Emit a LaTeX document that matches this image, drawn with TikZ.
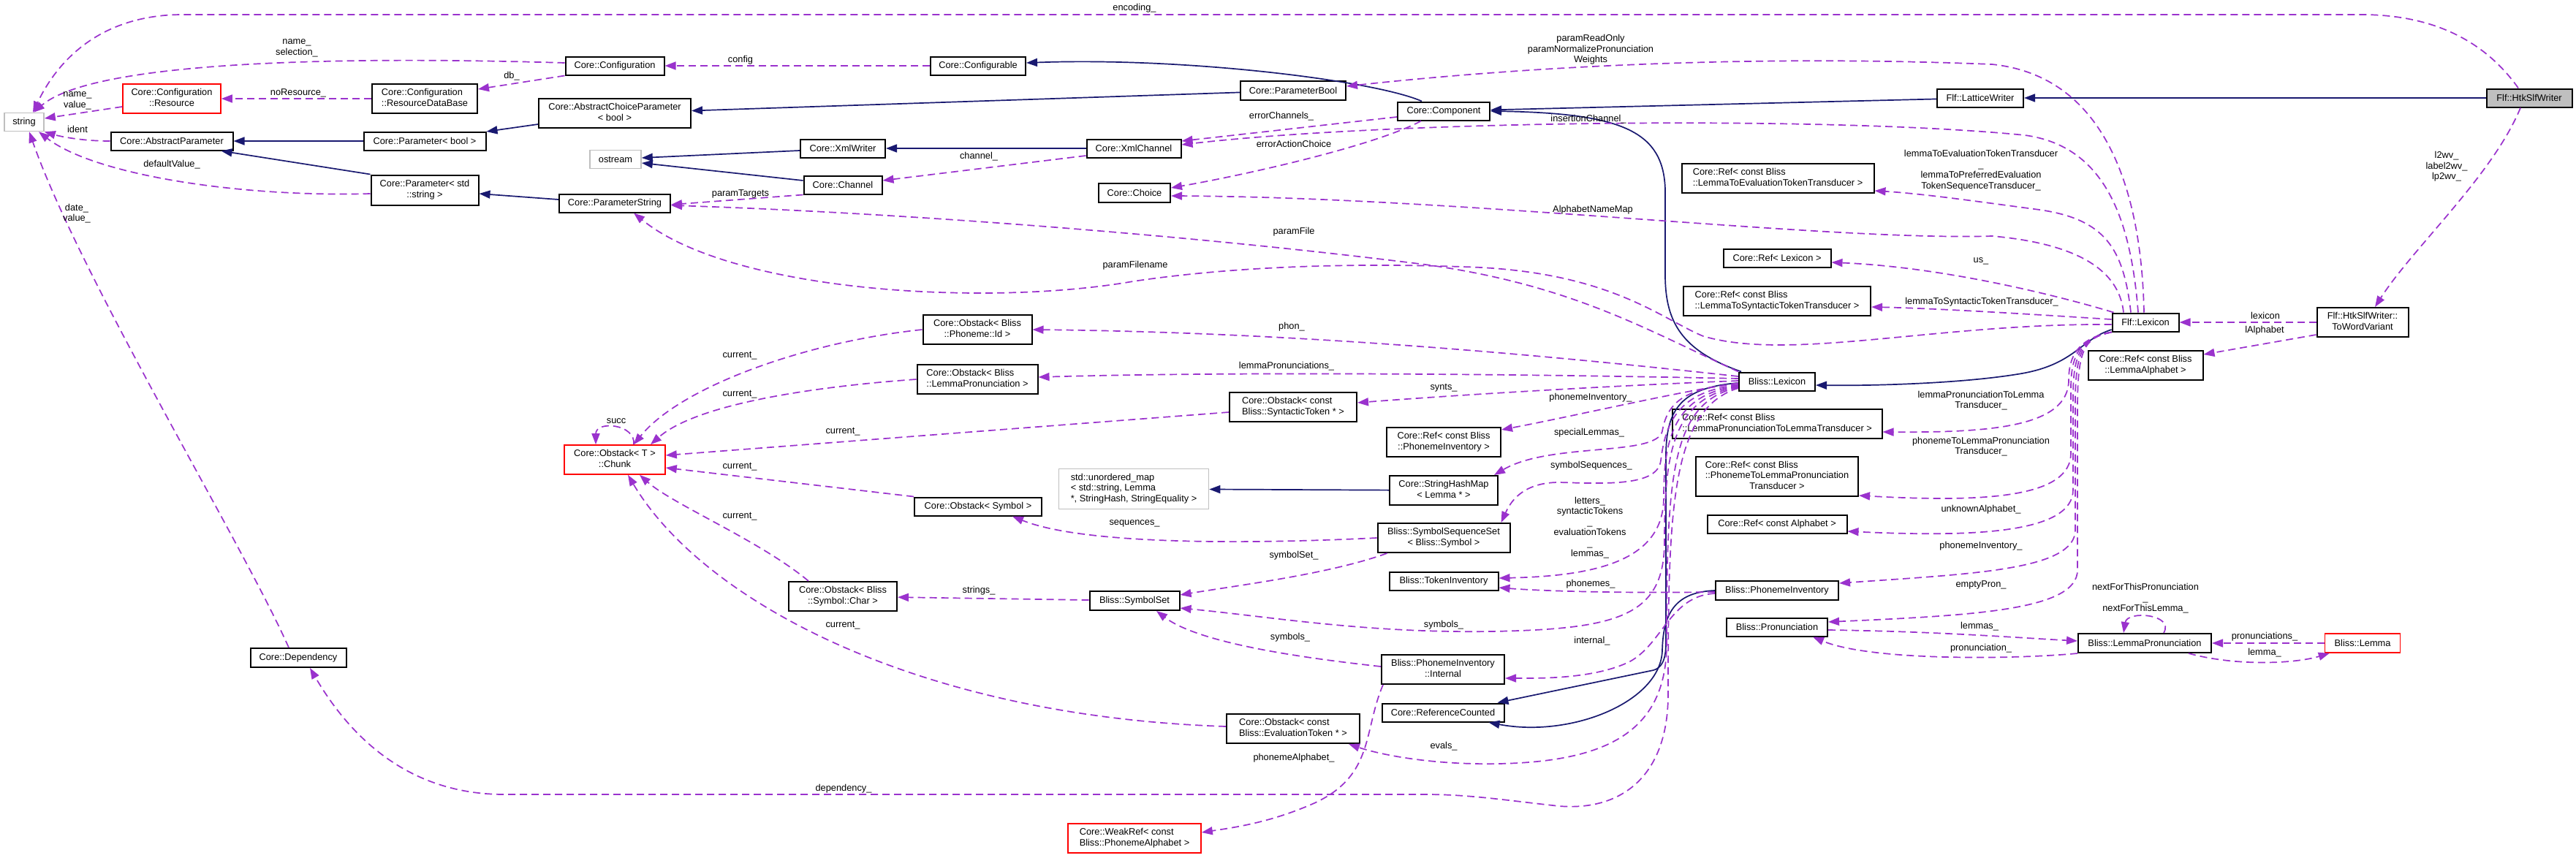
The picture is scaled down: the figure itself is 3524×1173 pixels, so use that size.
\documentclass[tikz,border=0pt]{standalone}
\usepackage{fontspec}
\setmainfont{Liberation Sans}
\usetikzlibrary{arrows.meta}
\definecolor{navyE}{RGB}{25,25,112}
\definecolor{purpE}{RGB}{154,50,205}
\definecolor{grayB}{RGB}{191,191,191}
\newcommand{\dxa}[2]{\begin{tabular}{@{}l@{}}#1\\\multicolumn{1}{@{}c@{}}{#2}\end{tabular}}
\newcommand{\dxb}[3]{\begin{tabular}{@{}l@{}}#1\\#2\\\multicolumn{1}{@{}c@{}}{#3}\end{tabular}}
\tikzset{
  wh/.style 2 args={minimum width=#1pt,minimum height=#2pt},
  box/.style={draw=black, fill=white, line width=2pt, inner sep=0pt},
  gbox/.style={box, draw=grayB, line width=1.6pt},
  rbox/.style={box, draw=red, line width=1.6pt},
  inh/.style={draw=navyE, line width=1.7pt, -{Triangle[length=15pt,width=11pt]}},
  use/.style={draw=purpE, line width=1.7pt, dash pattern=on 10pt off 6pt, -{Triangle[length=15pt,width=11pt]}},
  lbl/.style={inner sep=0pt, align=center},
}
\begin{document}
\begin{tikzpicture}[x=1pt,y=-1pt,
  every node/.style={font=\fontsize{12.8}{14.5}\selectfont}]
\fill[white] (0,0) rectangle (3524,1173);
\useasboundingbox (0,0) rectangle (3524,1173);

% ---------------- nodes ----------------
\node[gbox,wh={54}{25}] (str) at (33,167) {string};
\node[rbox,wh={134}{40}] (res) at (235,135) {\dxa{Core::Configuration}{::Resource}};
\node[box,wh={144}{40}] (resdb) at (581,135) {\dxa{Core::Configuration}{::ResourceDataBase}};
\node[box,wh={135}{25}] (conf) at (841,90) {Core::Configuration};
\node[box,wh={208}{40}] (acp) at (841,155) {\dxa{Core::AbstractChoiceParameter}{< bool >}};
\node[box,wh={167}{25}] (ap) at (235,193) {Core::AbstractParameter};
\node[box,wh={167}{25}] (pbool) at (581,193) {Core::Parameter< bool >};
\node[gbox,wh={70}{25}] (ostr) at (842,218) {ostream};
\node[box,wh={147}{41}] (pstr) at (581,260) {\dxa{Core::Parameter< std}{::string >}};
\node[box,wh={152}{25}] (ps) at (841,278) {Core::ParameterString};
\node[box,wh={130}{25}] (cfgb) at (1338,90) {Core::Configurable};
\node[box,wh={144}{26}] (pb) at (1769,124) {Core::ParameterBool};
\node[box,wh={116}{25}] (xw) at (1153,203) {Core::XmlWriter};
\node[box,wh={129}{25}] (xc) at (1551,203) {Core::XmlChannel};
\node[box,wh={107}{25}] (ch) at (1153,253) {Core::Channel};
\node[box,wh={98}{26}] (cho) at (1552,264) {Core::Choice};
\node[box,wh={126}{25}] (comp) at (1975,152) {Core::Component};
\node[box,wh={118}{25}] (lw) at (2709,134) {Flf::LatticeWriter};
\node[box,fill=grayB,wh={117}{25}] (htk) at (3460,134) {Flf::HtkSlfWriter};
\node[box,wh={263}{40}] (refev) at (2432,244) {\dxa{Core::Ref< const Bliss}{::LemmaToEvaluationTokenTransducer >}};
\node[box,wh={147}{25}] (reflex) at (2431,353) {Core::Ref< Lexicon >};
\node[box,wh={256}{40}] (refsyn) at (2431,412) {\dxa{Core::Ref< const Bliss}{::LemmaToSyntacticTokenTransducer >}};
\node[box,wh={91}{25}] (flex) at (2935,441) {Flf::Lexicon};
\node[box,wh={125}{40}] (twv) at (3232,441) {\dxa{Flf::HtkSlfWriter::}{ToWordVariant}};
\node[box,wh={157}{40}] (reflalph) at (2935,500) {\dxa{Core::Ref< const Bliss}{::LemmaAlphabet >}};
\node[box,wh={104}{25}] (blex) at (2431,522) {Bliss::Lexicon};
\node[box,wh={174}{40}] (obsyn) at (1769,557) {\dxa{Core::Obstack< const}{Bliss::SyntacticToken * >}};
\node[box,wh={156}{40}] (refpi) at (1975,605) {\dxa{Core::Ref< const Bliss}{::PhonemeInventory >}};
\node[box,wh={148}{40}] (shm) at (1975,671) {\dxa{Core::StringHashMap}{< Lemma * >}};
\node[box,wh={181}{40}] (sss) at (1975,736) {\dxa{Bliss::SymbolSequenceSet}{< Bliss::Symbol >}};
\node[box,wh={149}{25}] (ti) at (1975,795) {Bliss::TokenInventory};
\node[box,wh={287}{40}] (reflp) at (2431,580) {\dxa{Core::Ref< const Bliss}{::LemmaPronunciationToLemmaTransducer >}};
\node[box,wh={222}{54}] (refpl) at (2431,652) {\dxb{Core::Ref< const Bliss}{::PhonemeToLemmaPronunciation}{Transducer >}};
\node[box,wh={191}{25}] (refalph) at (2431,717) {Core::Ref< const Alphabet >};
\node[box,wh={168}{26}] (pi) at (2431,808) {Bliss::PhonemeInventory};
\node[box,wh={138}{25}] (pron) at (2431,858) {Bliss::Pronunciation};
\node[box,wh={168}{40}] (pii) at (1974,916) {\dxa{Bliss::PhonemeInventory}{::Internal}};
\node[box,wh={167}{25}] (rc) at (1974,975) {Core::ReferenceCounted};
\node[box,wh={182}{40}] (obev) at (1769,997) {\dxa{Core::Obstack< const}{Bliss::EvaluationToken * >}};
\node[box,wh={182}{26}] (lp) at (2934,880) {Bliss::LemmaPronunciation};
\node[rbox,wh={103}{26}] (lem) at (3232,880) {Bliss::Lemma};
\node[box,wh={149}{40}] (obph) at (1337,451) {\dxa{Core::Obstack< Bliss}{::Phoneme::Id >}};
\node[box,wh={165}{40}] (oblp) at (1337,519) {\dxa{Core::Obstack< Bliss}{::LemmaPronunciation >}};
\node[gbox,wh={205}{55}] (umap) at (1551,669) {\dxb{std::unordered\_map}{< std::string, Lemma}{ *, StringHash, StringEquality >}};
\node[box,wh={174}{25}] (obsym) at (1338,693) {Core::Obstack< Symbol >};
\node[rbox,wh={138}{40}] (chunk) at (841,629) {\dxa{Core::Obstack< T >}{::Chunk}};
\node[box,wh={148}{40}] (obch) at (1153,816) {\dxa{Core::Obstack< Bliss}{::Symbol::Char >}};
\node[box,wh={123}{26}] (ss) at (1552,822) {Bliss::SymbolSet};
\node[rbox,wh={182}{40}] (wr) at (1552,1147) {\dxa{Core::WeakRef< const}{Bliss::PhonemeAlphabet >}};
\node[box,wh={131}{26}] (dep) at (408,900) {Core::Dependency};

% ---------------- inheritance (solid) ----------------
\draw[inh] (htk) -- (lw);
\draw[inh] (lw) -- (comp);
\draw[inh] ([xshift=-30pt]comp.north) .. controls (1880,110) and (1620,78) .. ([yshift=4pt]cfgb.east);
\draw[inh] (pb) -- (acp);
\draw[inh] ([yshift=-15pt]acp.west) -- ([yshift=13pt]pbool.east);
\draw[inh] (pbool) -- (ap);
\draw[inh] (pstr.north west) -- ([xshift=-17pt]ap.south east);
\draw[inh] ([yshift=5pt]ps.west) -- ([yshift=-5pt]pstr.east);
\draw[inh] ([yshift=-3pt]xw.west) -- ([yshift=2pt]ostr.east);
\draw[inh] ([yshift=6pt]ch.west) -- ([yshift=-5pt]ostr.east);
\draw[inh] (xc) -- (xw);
\draw[inh] ([yshift=-10pt]flex.west) .. controls (2845,465) and (2838,500) .. (2760,512) .. controls (2680,525) and (2560,528) .. ([yshift=-5pt]blex.east);
\draw[inh] ([xshift=4pt]blex.north west) .. controls (2300,480) and (2279,440) .. (2278,380) -- (2278,260) .. controls (2276,180) and (2220,155) .. (comp.east);
\draw[inh] ([yshift=-2pt]blex.west) .. controls (2300,530) and (2280,560) .. (2279,620) -- (2279,880) .. controls (2279,905) and (2272,914) .. (2262,917) -- ([xshift=-10pt]rc.north east);
\draw[inh] (pi.west) .. controls (2295,810) and (2275,835) .. (2274,890) .. controls (2272,960) and (2150,1010) .. ([xshift=-22pt]rc.south east);
\draw[inh] (shm) -- (umap);

% ---------------- usage (dashed) ----------------
\draw[use] ([xshift=-15pt]htk.north) .. controls (3395,50) and (3320,20) .. (3230,20) -- (250,20) .. controls (150,20) and (85,70) .. ([xshift=12pt]str.north);
\draw[use] ([xshift=-12pt]htk.south) .. controls (3410,240) and (3300,340) .. ([xshift=17pt]twv.north);
\draw[use] (cfgb) -- (conf);
\draw[use] ([yshift=4pt]conf.west) .. controls (400,75) and (120,90) .. ([xshift=13pt]str.north);
\draw[use] (conf.south west) -- ([yshift=13pt]resdb.east);
\draw[use] (resdb) -- (res);
\draw[use] ([yshift=-11pt]res.west) -- ([yshift=5pt]str.east);
\draw[use] (ap.west) .. controls (110,193) and (80,186) .. (str.south east);
\draw[use] ([yshift=-5pt]pstr.west) .. controls (330,270) and (130,240) .. ([xshift=20pt]str.south);
\draw[use] ([xshift=-13pt]dep.north) .. controls (330,740) and (110,380) .. ([xshift=7pt]str.south);
\draw[use] ([yshift=-10pt]xc.west) -- ([yshift=6pt]ch.east);
\draw[use] (ch.south west) -- ([yshift=-2pt]ps.east);
\draw[use] ([yshift=-8pt]comp.west) -- ([yshift=10pt]xc.east);
\draw[use] ([xshift=-31pt]comp.south) .. controls (1880,200) and (1700,240) .. ([yshift=7pt]cho.east);
\draw[use] ([xshift=-10pt]flex.north) .. controls (2915,300) and (2880,200) .. (2770,185) .. controls (2500,158) and (1900,165) .. ([yshift=5pt]xc.east);
\draw[use] ([xshift=-30pt]flex.north) .. controls (2900,380) and (2860,335) .. (2725,323) .. controls (2500,330) and (2000,270) .. ([yshift=-4pt]cho.east);
\draw[use] ([xshift=-20pt]flex.north) .. controls (2905,340) and (2880,300) .. (2790,287) .. controls (2700,275) and (2630,265) .. ([yshift=-17pt]refev.east);
\draw[use] ([xshift=3pt]flex.north west) .. controls (2800,400) and (2650,365) .. ([yshift=-6pt]reflex.east);
\draw[use] ([xshift=-2pt]flex.north) .. controls (2930,280) and (2890,105) .. (2725,88) .. controls (2400,75) and (2100,90) .. ([yshift=6pt]pb.east);
\draw[use] ([yshift=4pt]flex.west) .. controls (2780,430) and (2650,422) .. ([yshift=-8pt]refsyn.east);
\draw[use] ([yshift=-3pt]flex.west) .. controls (2650,442) and (2450,495) .. (2330,460) .. controls (2270,435) and (2200,370) .. (2000,365) .. controls (1800,358) and (1650,370) .. (1550,385) .. controls (1350,420) and (1000,400) .. ([xshift=26pt]ps.south);
\draw[use] (blex.north west) .. controls (2250,450) and (2150,390) .. (1950,362) .. controls (1600,318) and (1200,290) .. ([yshift=-3pt]ps.east);
% Bliss::Lexicon fan
\draw[use] ([yshift=7pt]blex.west) .. controls (2150,490) and (1800,455) .. (obph.east);
\draw[use] ([yshift=4pt]blex.west) .. controls (2100,512) and (1700,508) .. ([yshift=3pt]oblp.east);
\draw[use] ([yshift=1pt]blex.west) .. controls (2200,528) and (2000,540) .. ([yshift=6pt]obsyn.east);
\draw[use] ([yshift=-2pt]blex.west) .. controls (2300,535) and (2150,570) .. ([yshift=17pt]refpi.east);
\draw[use] ([yshift=-4pt]blex.west) .. controls (2300,530) and (2280,555) .. (2274,590) .. controls (2266,625) and (2120,605) .. ([xshift=-6pt]shm.north east);
\draw[use] ([yshift=-5pt]blex.west) .. controls (2295,535) and (2278,580) .. (2272,630) .. controls (2268,665) and (2200,662) .. (2133,660) .. controls (2080,660) and (2065,690) .. ([xshift=-13pt]sss.north east);
\draw[use] ([yshift=-6pt]blex.west) .. controls (2290,540) and (2276,600) .. (2276,680) .. controls (2276,760) and (2200,788) .. ([yshift=4pt]ti.east);
\draw[use] ([yshift=-7pt]blex.west) .. controls (2288,545) and (2277,620) .. (2277,740) .. controls (2277,830) and (2230,855) .. (2100,862) .. controls (1900,872) and (1750,845) .. ([yshift=-10pt]ss.east);
\draw[use] ([yshift=-8pt]blex.west) .. controls (2286,550) and (2280,650) .. (2280,880) .. controls (2280,1000) and (2200,1042) .. (2050,1045) .. controls (1950,1047) and (1880,1030) .. ([xshift=-16pt]obev.south east);
\draw[use] ([yshift=-9pt]blex.west) .. controls (2285,560) and (2282,700) .. (2282,950) .. controls (2282,1060) and (2220,1110) .. (2133,1103) .. controls (2060,1095) and (2010,1087) .. (1950,1087) -- (690,1087) .. controls (560,1087) and (480,1010) .. ([xshift=16pt]dep.south);
% PhonemeInventory
\draw[use] ([yshift=-2pt]pi.west) .. controls (2200,812) and (2100,808) .. ([yshift=-9pt]ti.east);
\draw[use] ([yshift=-4pt]pi.west) .. controls (2285,815) and (2275,880) .. (2230,905) .. controls (2180,930) and (2100,928) .. ([yshift=-12pt]pii.east);
\draw[use] ([yshift=4pt]pii.west) .. controls (1780,900) and (1640,880) .. ([xshift=30pt]ss.south);
\draw[use] ([xshift=3pt]pii.south west) .. controls (1865,1000) and (1880,1060) .. (1800,1098) .. controls (1740,1125) and (1690,1132) .. ([yshift=8pt]wr.east);
\draw[use] (sss.west) .. controls (1700,745) and (1480,745) .. ([xshift=47pt]obsym.south);
\draw[use] ([xshift=14pt]sss.south west) .. controls (1820,785) and (1700,800) .. ([yshift=8pt]ss.east);
\draw[use] (ss) -- (obch);
% current_ -> Chunk
\draw[use] (obph.west) .. controls (1100,468) and (930,530) .. ([xshift=26pt]chunk.north);
\draw[use] (oblp.west) .. controls (1100,530) and (950,555) .. ([xshift=49pt]chunk.north);
\draw[use] ([yshift=-7pt]obsyn.west) -- ([yshift=6pt]chunk.east);
\draw[use] (obsym.north west) -- ([yshift=-11pt]chunk.east);
\draw[use] ([xshift=-47pt]obch.north) .. controls (1040,740) and (920,690) .. ([xshift=34pt]chunk.south);
\draw[use] ([yshift=3pt]obev.west) .. controls (1250,980) and (960,820) .. ([xshift=18pt]chunk.south);
\draw[use] ([xshift=26pt]chunk.north) .. controls (870,580) and (815,575) .. ([xshift=-26pt]chunk.north);
% Flf::Lexicon downward bundle
\draw[use] (flex.south west) .. controls (2850,462) and (2830,480) .. (2830,520) .. controls (2830,585) and (2720,592) .. ([yshift=-11pt]reflp.east);
\draw[use] (flex.south west) .. controls (2850,462) and (2833,480) .. (2833,530) -- (2833,620) .. controls (2833,680) and (2720,688) .. ([yshift=2pt]refpl.south east);
\draw[use] (flex.south west) .. controls (2850,462) and (2836,480) .. (2836,540) -- (2836,670) .. controls (2836,730) and (2700,735) .. ([yshift=-10pt]refalph.east);
\draw[use] (flex.south west) .. controls (2850,462) and (2839,480) .. (2839,550) -- (2839,725) .. controls (2839,780) and (2700,785) .. ([yshift=10pt]pi.east);
\draw[use] (flex.south west) .. controls (2850,462) and (2842,480) .. (2842,560) -- (2842,780) .. controls (2842,835) and (2700,842) .. ([yshift=7pt]pron.east);
% lemmas / pronunciations
\draw[use] ([yshift=-4pt]pron.east) .. controls (2650,864) and (2750,872) .. ([yshift=3pt]lp.west);
\draw[use] (lp.south west) .. controls (2760,902) and (2560,905) .. ([xshift=49pt]pron.south);
\draw[use] (lem) -- (lp);
\draw[use] ([xshift=-32pt]lp.south east) .. controls (3060,912) and (3140,908) .. ([xshift=7pt]lem.south west);
\draw[use] ([xshift=26pt]lp.north) .. controls (2975,840) and (2910,835) .. ([xshift=-29pt]lp.north);
\draw[use] (twv) -- (flex);
\draw[use] ([yshift=-17pt]twv.west) -- ([yshift=15pt]reflalph.east);

% ---------------- edge labels ----------------
\node[lbl] (l_enc) at (1552,11) {encoding\_};
\node[lbl] (l_namesel) at (406,66) {name\_\\selection\_};
\node[lbl] (l_db) at (700,104) {db\_};
\node[lbl] (l_nores) at (408,127) {noResource\_};
\node[lbl] (l_nameval) at (106,138) {name\_\\value\_};
\node[lbl] (l_ident) at (106,177) {ident};
\node[lbl] (l_defv) at (235,225) {defaultValue\_};
\node[lbl] (l_date) at (105,292) {date\_\\value\_};
\node[lbl] (l_config) at (1013,82) {config};
\node[lbl] (l_channel) at (1339,214) {channel\_};
\node[lbl] (l_ptargets) at (1013,265) {paramTargets};
\node[lbl] (l_errch) at (1753,159) {errorChannels\_};
\node[lbl] (l_erract) at (1770,197) {errorActionChoice};
\node[lbl] (l_insch) at (2173,163) {insertionChannel\_};
\node[lbl] (l_alph) at (2179,287) {AlphabetNameMap};
\node[lbl] (l_lte) at (2710,233) {lemmaToEvaluationTokenTransducer\\\_\\lemmaToPreferredEvaluation\\TokenSequenceTransducer\_};
\node[lbl] (l_us) at (2710,357) {us\_};
\node[lbl] (l_pro) at (2176,68) {paramReadOnly\\paramNormalizePronunciation\\Weights};
\node[lbl] (l_lts) at (2711,413) {lemmaToSyntacticTokenTransducer\_};
\node[lbl] (l_pfn) at (1553,363) {paramFilename};
\node[lbl] (l_pf) at (1770,317) {paramFile};
\node[lbl] (l_phon) at (1767,447) {phon\_};
\node[lbl] (l_lpr) at (1760,501) {lemmaPronunciations\_};
\node[lbl] (l_synts) at (1975,531) {synts\_};
\node[lbl] (l_phinv) at (2176,544) {phonemeInventory\_};
\node[lbl] (l_spec) at (2174,592) {specialLemmas\_};
\node[lbl] (l_symseq) at (2177,637) {symbolSequences\_};
\node[lbl] (l_tok) at (2175,722) {letters\_\\syntacticTokens\\\_\\evaluationTokens\\\_\\lemmas\_};
\node[lbl] (l_phonemes) at (2176,799) {phonemes\_};
\node[lbl] (l_internal) at (2178,877) {internal\_};
\node[lbl] (l_sym1) at (1975,855) {symbols\_};
\node[lbl] (l_sym2) at (1765,872) {symbols\_};
\node[lbl] (l_phalph) at (1770,1037) {phonemeAlphabet\_};
\node[lbl] (l_seq) at (1552,716) {sequences\_};
\node[lbl] (l_symset) at (1770,760) {symbolSet\_};
\node[lbl] (l_strings) at (1339,808) {strings\_};
\node[lbl] (l_cur1) at (1012,487) {current\_};
\node[lbl] (l_cur2) at (1012,540) {current\_};
\node[lbl] (l_cur3) at (1153,591) {current\_};
\node[lbl] (l_cur4) at (1012,639) {current\_};
\node[lbl] (l_cur5) at (1012,707) {current\_};
\node[lbl] (l_cur6) at (1153,856) {current\_};
\node[lbl] (l_succ) at (843,576) {succ};
\node[lbl] (l_evals) at (1975,1021) {evals\_};
\node[lbl] (l_dep) at (1154,1079) {dependency\_};
\node[lbl] (l_lpl) at (2710,548) {lemmaPronunciationToLemma\\Transducer\_};
\node[lbl] (l_pl) at (2710,611) {phonemeToLemmaPronunciation\\Transducer\_};
\node[lbl] (l_unk) at (2710,697) {unknownAlphabet\_};
\node[lbl] (l_phinv2) at (2710,747) {phonemeInventory\_};
\node[lbl] (l_empty) at (2710,800) {emptyPron\_};
\node[lbl] (l_lemmas) at (2708,857) {lemmas\_};
\node[lbl] (l_pronun) at (2710,887) {pronunciation\_};
\node[lbl] (l_pronuns) at (3098,871) {pronunciations\_};
\node[lbl] (l_lemma) at (3098,893) {lemma\_};
\node[lbl] (l_next) at (2935,819) {nextForThisPronunciation\\\_\\nextForThisLemma\_};
\node[lbl] (l_lex) at (3099,432) {lexicon};
\node[lbl] (l_lalph) at (3098,452) {lAlphabet};
\node[lbl] (l_l2wv) at (3347,228) {l2wv\_\\label2wv\_\\lp2wv\_};
\end{tikzpicture}
\end{document}
